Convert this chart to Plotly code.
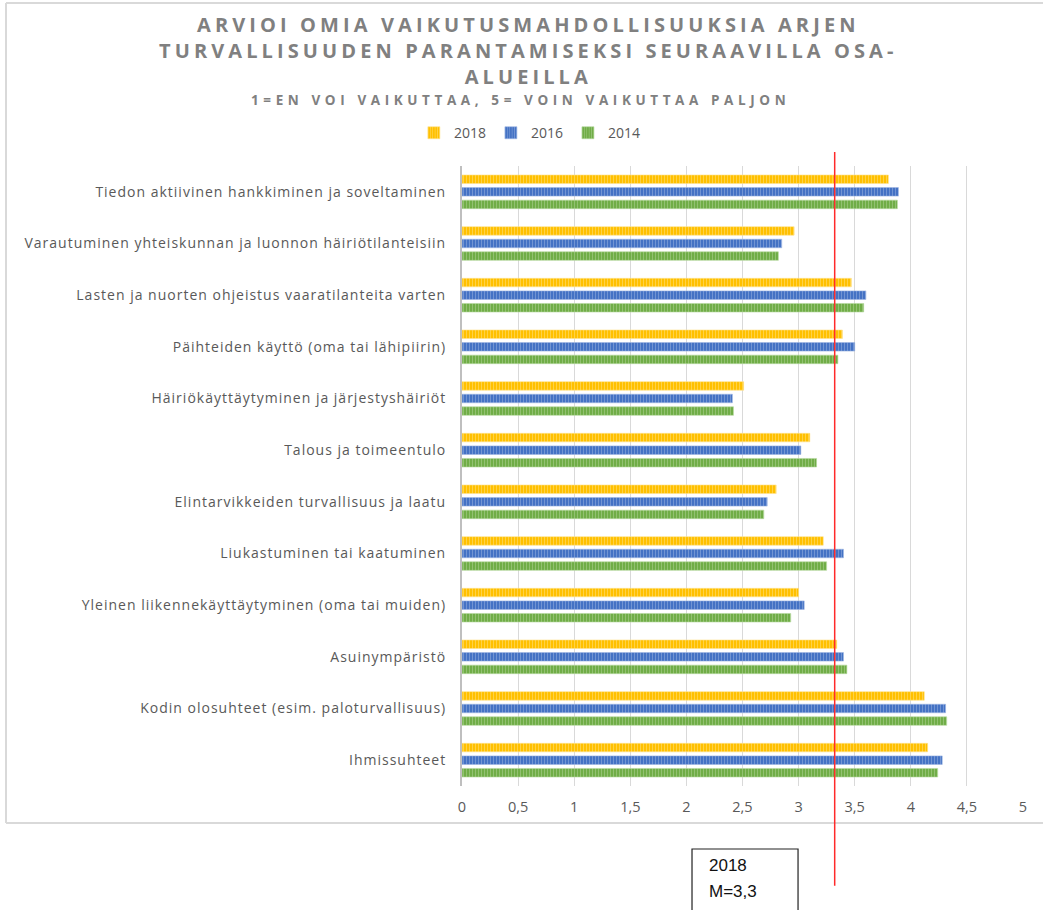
import numpy as np
import plotly.graph_objects as go

categories = [
    "Tiedon aktiivinen hankkiminen ja soveltaminen",
    "Varautuminen yhteiskunnan ja luonnon häiriötilanteisiin",
    "Lasten ja nuorten ohjeistus vaaratilanteita varten",
    "Päihteiden käyttö (oma tai lähipiirin)",
    "Häiriökäyttäytyminen ja järjestyshäiriöt",
    "Talous ja toimeentulo",
    "Elintarvikkeiden turvallisuus ja laatu",
    "Liukastuminen tai kaatuminen",
    "Yleinen liikennekäyttäytyminen (oma tai muiden)",
    "Asuinympäristö",
    "Kodin olosuhteet (esim. paloturvallisuus)",
    "Ihmissuhteet",
]
v2018 = [3.80, 2.96, 3.47, 3.39, 2.51, 3.10, 2.80, 3.22, 3.00, 3.34, 4.12, 4.15]
v2016 = [3.89, 2.85, 3.60, 3.50, 2.41, 3.02, 2.72, 3.40, 3.05, 3.40, 4.31, 4.28]
v2014 = [3.88, 2.82, 3.58, 3.35, 2.42, 3.16, 2.69, 3.25, 2.93, 3.43, 4.32, 4.24]
series_names = ["2018", "2016", "2014"]
x_ticks = [0, 0.5, 1, 1.5, 2, 2.5, 3, 3.5, 4, 4.5, 5]

colors = ["#FFC000", "#4472C4", "#70AD47"]
light = ["#FFE38C", "#9DB5E2", "#B4D69C"]

mean2018 = float(np.mean(v2018))

fig = go.Figure()
for name, vals, c, lc in zip(series_names, [v2018, v2016, v2014], colors, light):
    fig.add_trace(go.Bar(
        y=categories, x=vals, name=name, orientation="h",
        marker=dict(color=c, line=dict(color=lc, width=0.6),
                    pattern=dict(shape="|", fgcolor=lc, bgcolor=c, size=3, solidity=0.35, fillmode="overlay")),
    ))

gray = "#595959"
ticktext = [f'<span style="letter-spacing:1px">{c}</span>' for c in categories]
fig.update_layout(
    width=1043, height=910,
    margin=dict(l=462, r=20, t=166, b=124),
    paper_bgcolor="white", plot_bgcolor="white",
    barmode="group", bargap=0.27, bargroupgap=0.32,
    separators=", ",
    font=dict(family="Open Sans", color=gray),
    showlegend=True,
    legend=dict(orientation="h", x=0.121, xanchor="center", y=1.053, yanchor="middle",
                font=dict(size=14, color=gray), traceorder="normal", itemwidth=30),
    xaxis=dict(range=[0, 5], tickvals=x_ticks, showgrid=True, gridcolor="#d9d9d9", gridwidth=1,
               zeroline=False, showline=False, ticks="outside", ticklen=8, tickcolor="rgba(0,0,0,0)",
               tickfont=dict(size=14.5, color=gray)),
    yaxis=dict(categoryorder="array", categoryarray=categories, autorange="reversed",
               tickmode="array", tickvals=categories, ticktext=ticktext,
               showline=True, linecolor="#bfbfbf", linewidth=2, showgrid=False,
               ticks="outside", ticklen=11, tickcolor="rgba(0,0,0,0)",
               tickfont=dict(family="Open Sans", size=14, color=gray)),
)

title_lines = ["ARVIOI OMIA VAIKUTUSMAHDOLLISUUKSIA ARJEN",
               "TURVALLISUUDEN PARANTAMISEKSI SEURAAVILLA OSA-",
               "ALUEILLA"]
title_html = "<br>".join(f'<span style="letter-spacing:4.1px">{t}</span>' for t in title_lines)
fig.add_annotation(text=f"<b>{title_html}</b>", xref="paper", yref="paper", x=0.119, y=1.1855,
                   xanchor="center", yanchor="middle", showarrow=False,
                   font=dict(family="Open Sans", size=20, color="#808080"))
fig.add_annotation(text='<b><span style="letter-spacing:4.6px">1=EN VOI VAIKUTTAA, 5= VOIN VAIKUTTAA PALJON</span></b>',
                   xref="paper", yref="paper", x=0.105, y=1.1065, xanchor="center", yanchor="middle",
                   showarrow=False, font=dict(family="Open Sans", size=13.5, color="#808080"))

# outer chart frame (left, top, bottom edges)
fx0, fx1, fy0, fy1 = -0.8128, 1.2, -0.0597, 1.263
for (a, b, c, d) in [(fx0, fy0, fx0, fy1), (fx0, fy1, fx1, fy1), (fx0, fy0, fx1, fy0)]:
    fig.add_shape(type="line", xref="paper", yref="paper", x0=a, y0=b, x1=c, y1=d,
                  line=dict(color="#d9d9d9", width=2), layer="below")

# mean line of 2018
fig.add_shape(type="line", xref="x", yref="paper", x0=mean2018, x1=mean2018, y0=-0.161, y1=1.0226,
              line=dict(color="#ff2a2a", width=1.5))

# text box
fig.add_shape(type="rect", xref="paper", yref="paper", x0=0.41, x1=0.599, y0=-0.25, y1=-0.1016,
              line=dict(color="#222222", width=1.2), fillcolor="white")
fig.add_annotation(text="2018", xref="paper", yref="paper", x=0.4367, y=-0.1290, xanchor="left",
                   yanchor="middle", showarrow=False, font=dict(family="Liberation Sans", size=17, color="#111"))
fig.add_annotation(text="M=" + f"{mean2018:.1f}".replace(".", ","), xref="paper", yref="paper", x=0.4367,
                   y=-0.1700, xanchor="left", yanchor="middle", showarrow=False,
                   font=dict(family="Liberation Sans", size=17, color="#111"))

fig.write_html("out.html", config={"displayModeBar": False},
               post_script="document.body.style.margin='0';document.body.style.overflow='hidden';")
